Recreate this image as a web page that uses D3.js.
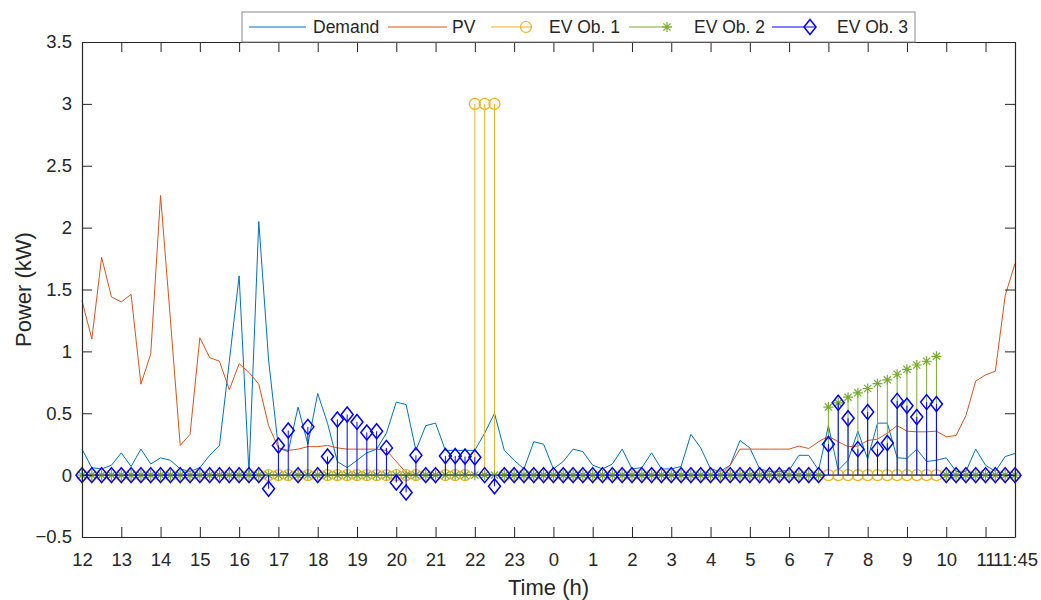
<!DOCTYPE html>
<html>
<head>
<meta charset="utf-8">
<script src="https://cdn.jsdelivr.net/npm/d3@7"></script>
<style>
  body { margin: 0; background: #fff; }
  svg text { font-family: "Liberation Sans", Arial, Helvetica, sans-serif; fill: #262626; }
</style>
</head>
<body>
<div id="chart"></div>
<script>
// 15-minute steps from 12:00 to 11:45 next day (96 points)
const hourTicks = [0, 4, 8, 12, 16, 20, 24, 28, 32, 36, 40, 44, 48, 52, 56, 60, 64, 68, 72, 76, 80, 84, 88, 92, 95];
const hourLabels = ["12", "13", "14", "15", "16", "17", "18", "19", "20", "21", "22", "23",
  "0", "1", "2", "3", "4", "5", "6", "7", "8", "9", "10", "11", "11:45"];
const yTicks = [-0.5, 0, 0.5, 1, 1.5, 2, 2.5, 3, 3.5];

const demand = [
  0.21, 0.06, 0.05, 0.08, 0.18, 0.07, 0.21, 0.09, 0.14, 0.12, 0.05, 0.03,
  0.06, 0.16, 0.24, 0.92, 1.61, 0.02, 2.05, 0.93, 0.22, 0.19, 0.55, 0.25,
  0.66, 0.42, 0.11, 0.06, 0.12, 0.18, 0.21, 0.34, 0.59, 0.57, 0.20, 0.40,
  0.42, 0.20, 0.20, 0.20, 0.20, 0.34, 0.50, 0.20, 0.12, 0.05, 0.27, 0.25,
  0.05, 0.11, 0.21, 0.19, 0.08, 0.05, 0.09, 0.21, 0.05, 0.06, 0.18, 0.05,
  0.05, 0.07, 0.33, 0.22, 0.05, 0.03, 0.08, 0.28, 0.22, 0.05, 0.03, 0.03,
  0.04, 0.16, 0.16, 0.04, 0.40, 0.04, 0.12, 0.355, 0.13, 0.42, 0.42, 0.14,
  0.135, 0.21, 0.11, 0.12, 0.14, 0.03, 0.03, 0.21, 0.08, 0.03, 0.15, 0.175
];

const pv = [
  1.41, 1.10, 1.76, 1.44, 1.40, 1.46, 0.735, 0.98, 2.26, 1.26, 0.24, 0.33,
  1.11, 0.95, 0.92, 0.69, 0.90, 0.83, 0.735, 0.40, 0.22, 0.20, 0.21, 0.23,
  0.23, 0.24, 0.22, 0.21, 0.21, 0.21, 0.21, 0.20, 0.11, 0.02, 0, 0,
  0, 0, 0, 0, 0, 0, 0, 0, 0, 0, 0, 0,
  0, 0, 0, 0, 0, 0, 0, 0, 0, 0, 0, 0,
  0, 0, 0, 0, 0, 0, 0.08, 0.21, 0.21, 0.21, 0.21, 0.21,
  0.21, 0.235, 0.215, 0.27, 0.315, 0.27, 0.23, 0.235, 0.28, 0.29, 0.34, 0.40,
  0.355, 0.35, 0.35, 0.355, 0.31, 0.32, 0.48, 0.76, 0.81, 0.84, 1.45, 1.71
];

const ev1 = [
  0, 0, 0, 0, 0, 0, 0, 0, 0, 0, 0, 0,
  0, 0, 0, 0, 0, 0, 0, 0, 0, 0, 0, 0,
  0, 0, 0, 0, 0, 0, 0, 0, 0, 0, 0, 0,
  0, 0, 0, 0, 3.0, 3.0, 3.0, 0, 0, 0, 0, 0,
  0, 0, 0, 0, 0, 0, 0, 0, 0, 0, 0, 0,
  0, 0, 0, 0, 0, 0, 0, 0, 0, 0, 0, 0,
  0, 0, 0, 0, 0, 0, 0, 0, 0, 0, 0, 0,
  0, 0, 0, 0, 0, 0, 0, 0, 0, 0, 0, 0
];

const ev2 = [
  0, 0, 0, 0, 0, 0, 0, 0, 0, 0, 0, 0,
  0, 0, 0, 0, 0, 0, 0, 0, 0, 0, 0, 0,
  0, 0, 0, 0, 0, 0, 0, 0, 0, 0, 0, 0,
  0, 0, 0, 0, 0, 0, 0, 0, 0, 0, 0, 0,
  0, 0, 0, 0, 0, 0, 0, 0, 0, 0, 0, 0,
  0, 0, 0, 0, 0, 0, 0, 0, 0, 0, 0, 0,
  0, 0, 0, 0, 0.55, 0.584, 0.63, 0.665, 0.70, 0.74, 0.77, 0.815,
  0.855, 0.89, 0.92, 0.96, 0, 0, 0, 0, 0, 0, 0, 0
];

const ev3 = [
  0, 0, 0, 0, 0, 0, 0, 0, 0, 0, 0, 0,
  0, 0, 0, 0, 0, 0, 0, -0.11, 0.24, 0.36, 0, 0.39,
  0, 0.15, 0.45, 0.49, 0.43, 0.345, 0.355, 0.22, -0.06, -0.14, 0.16, 0,
  0, 0.155, 0.155, 0.15, 0.145, 0, -0.09, 0, 0, 0, 0, 0,
  0, 0, 0, 0, 0, 0, 0, 0, 0, 0, 0, 0,
  0, 0, 0, 0, 0, 0, 0, 0, 0, 0, 0, 0,
  0, 0, 0, 0, 0.25, 0.585, 0.46, 0.21, 0.51, 0.21, 0.26, 0.60,
  0.56, 0.47, 0.59, 0.575, 0, 0, 0, 0, 0, 0, 0, 0
];

const W = 1041, H = 600;
const mLeft = 82, mRight = 1015, mTop = 42, mBottom = 537;
const axisColor = "#262626";

const x = d3.scaleLinear().domain([0, 95]).range([mLeft, mRight]);
const y = d3.scaleLinear().domain([-0.5, 3.5]).range([mBottom, mTop]);

const svg = d3.select("#chart").append("svg")
  .attr("width", W).attr("height", H);

const plot = svg.append("g");

// plain lines
const line = d3.line().x((d, i) => x(i)).y(d => y(d));
plot.append("path").datum(demand)
  .attr("d", line).attr("fill", "none").attr("stroke", "#0072BD").attr("stroke-width", 1);
plot.append("path").datum(pv)
  .attr("d", line).attr("fill", "none").attr("stroke", "#D95319").attr("stroke-width", 1);

// marker shapes
function circleMark(g, c) {
  g.append("circle").attr("r", 5.5).attr("fill", "none").attr("stroke", c).attr("stroke-width", 1.2);
}
function starMark(g, c) {
  const r = 5, d = 3.6;
  g.append("path")
    .attr("d", `M${-r},0L${r},0M0,${-r}L0,${r}M${-d},${-d}L${d},${d}M${-d},${d}L${d},${-d}`)
    .attr("fill", "none").attr("stroke", c).attr("stroke-width", 1.2);
}
function diamondMark(g, c) {
  g.append("path").attr("d", "M0,-7.5L6,0L0,7.5L-6,0Z")
    .attr("fill", "none").attr("stroke", c).attr("stroke-width", 1.5);
}

// stem series
function stems(vals, color, mark) {
  const g = plot.append("g");
  g.append("line")
    .attr("x1", x(0)).attr("x2", x(95)).attr("y1", y(0)).attr("y2", y(0))
    .attr("stroke", "#555").attr("stroke-width", 1);
  g.selectAll("line.stem").data(vals).enter().append("line")
    .attr("class", "stem")
    .attr("x1", (d, i) => x(i)).attr("x2", (d, i) => x(i))
    .attr("y1", y(0)).attr("y2", d => y(d))
    .attr("stroke", color).attr("stroke-width", 1);
  g.selectAll("g.mk").data(vals).enter().append("g")
    .attr("class", "mk")
    .attr("transform", (d, i) => `translate(${x(i)},${y(d)})`)
    .each(function () { mark(d3.select(this), color); });
}
stems(ev1, "#EDB120", circleMark);
stems(ev2, "#77AC30", starMark);
stems(ev3, "#0000FF", diamondMark);

// axes box with inward ticks
const xb = svg.append("g").attr("transform", `translate(0,${mBottom})`)
  .call(d3.axisBottom(x).tickValues(hourTicks).tickFormat((d, i) => hourLabels[i]).tickSizeInner(-10).tickSizeOuter(0).tickPadding(16));
const xt = svg.append("g").attr("transform", `translate(0,${mTop})`)
  .call(d3.axisTop(x).tickValues(hourTicks).tickFormat("").tickSizeInner(-10).tickSizeOuter(0));
const yl = svg.append("g").attr("transform", `translate(${mLeft},0)`)
  .call(d3.axisLeft(y).tickValues(yTicks).tickFormat(d3.format("")).tickSizeInner(-10).tickSizeOuter(0).tickPadding(10));
const yr = svg.append("g").attr("transform", `translate(${mRight},0)`)
  .call(d3.axisRight(y).tickValues(yTicks).tickFormat("").tickSizeInner(-10).tickSizeOuter(0));

[xb, xt, yl, yr].forEach(a => {
  a.selectAll("path.domain").attr("stroke", axisColor).attr("stroke-width", 1.2);
  a.selectAll(".tick line").attr("stroke", axisColor).attr("stroke-width", 1);
  a.selectAll(".tick text").style("font-size", "18.5px").attr("fill", axisColor);
});

svg.append("text").attr("x", (mLeft + mRight) / 2).attr("y", 595)
  .attr("text-anchor", "middle").style("font-size", "22px").text("Time (h)");
svg.append("text").attr("transform", `translate(31,${(mTop + mBottom) / 2}) rotate(-90)`)
  .attr("text-anchor", "middle").style("font-size", "22px").text("Power (kW)");

// legend
const legendItems = [
  { name: "Demand", color: "#0072BD", mark: null, x0: 249, x1: 306, tx: 313 },
  { name: "PV", color: "#D95319", mark: null, x0: 388, x1: 447, tx: 452 },
  { name: "EV Ob. 1", color: "#EDB120", mark: circleMark, x0: 491, x1: 531, tx: 549 },
  { name: "EV Ob. 2", color: "#77AC30", mark: starMark, x0: 629, x1: 672, tx: 694 },
  { name: "EV Ob. 3", color: "#0000FF", mark: diamondMark, x0: 772, x1: 815, tx: 837 }
];
const lg = svg.append("g");
lg.append("rect").attr("x", 242).attr("y", 12).attr("width", 673).attr("height", 30)
  .attr("fill", "#fff").attr("stroke", "#8a8a8a").attr("stroke-width", 1);
legendItems.forEach(it => {
  lg.append("line").attr("x1", it.x0).attr("x2", it.x1).attr("y1", 27).attr("y2", 27)
    .attr("stroke", it.color).attr("stroke-width", 1);
  if (it.mark) {
    const m = lg.append("g").attr("transform", `translate(${it.x1 - 5},27)`);
    it.mark(m, it.color);
  }
  lg.append("text").attr("x", it.tx).attr("y", 33).style("font-size", "17.5px").text(it.name);
});
</script>
</body>
</html>
